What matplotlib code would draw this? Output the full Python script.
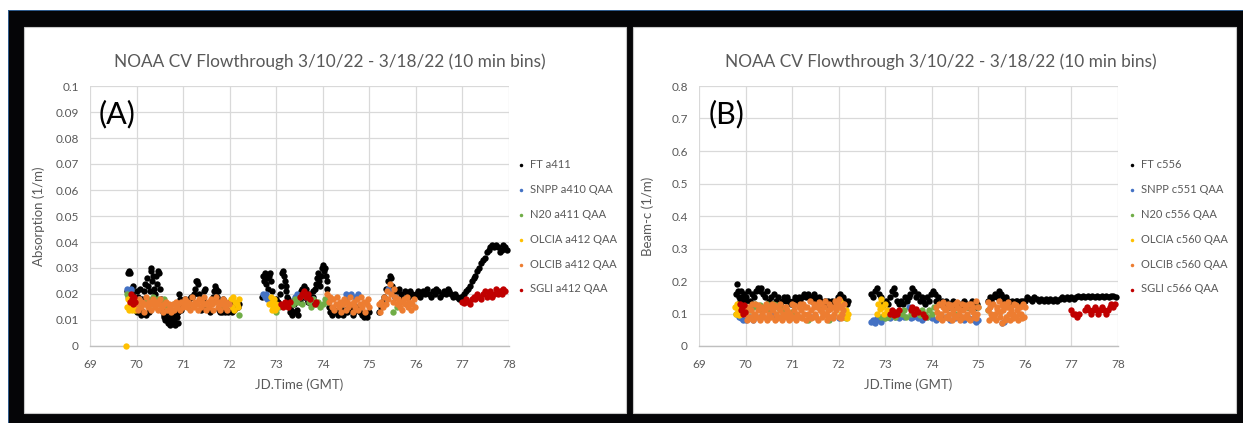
import matplotlib.pyplot as plt
from matplotlib.patches import Rectangle
from matplotlib.ticker import FuncFormatter

plt.rcParams['font.family'] = ['Lato', 'DejaVu Sans']

# ---------------- data: panel A (absorption, 1/m) ----------------
ft_a411 = [
    (69.80, .021), (69.82, .028), (69.84, .029), (69.86, .028), (69.88, .022), (69.90, .020),
    (69.92, .023), (69.94, .019), (69.96, .017), (69.98, .014), (70.00, .013), (70.02, .021),
    (70.04, .019), (70.06, .013), (70.08, .022), (70.10, .012), (70.12, .018), (70.14, .013),
    (70.16, .021), (70.18, .024), (70.20, .012), (70.22, .026), (70.24, .023), (70.26, .013),
    (70.28, .021), (70.30, .029), (70.32, .030), (70.34, .025), (70.36, .027), (70.38, .022),
    (70.40, .020), (70.42, .027), (70.44, .024), (70.46, .029), (70.48, .028), (70.50, .022),
    (70.52, .018), (70.54, .014), (70.56, .013), (70.58, .011), (70.60, .012), (70.62, .010),
    (70.64, .011), (70.66, .013), (70.68, .009), (70.70, .010), (70.72, .008), (70.74, .011),
    (70.76, .012), (70.78, .009), (70.80, .010), (70.82, .008), (70.84, .012), (70.86, .011),
    (70.88, .009), (70.90, .013), (70.92, .020), (70.94, .018), (70.96, .014), (70.98, .016),
    (71.00, .017), (71.04, .018), (71.08, .016), (71.12, .018), (71.16, .019), (71.20, .019),
    (71.24, .020), (71.26, .022), (71.28, .025), (71.30, .025), (71.32, .024), (71.34, .020),
    (71.38, .014), (71.42, .018), (71.44, .021), (71.48, .022), (71.52, .015), (71.56, .016),
    (71.58, .013), (71.62, .017), (71.64, .019), (71.66, .021), (71.68, .023), (71.70, .022),
    (71.72, .019), (71.74, .021), (71.78, .014), (71.80, .013), (71.84, .013), (71.86, .018),
    (71.90, .013), (71.94, .014), (71.96, .013), (72.00, .017), (72.04, .016), (72.06, .013),
    (72.10, .014), (72.14, .015), (72.18, .015), (72.20, .016),
    (72.70, .019), (72.72, .027), (72.74, .025), (72.76, .028), (72.78, .024), (72.80, .026),
    (72.82, .022), (72.84, .027), (72.86, .028), (72.88, .025), (72.90, .021), (72.92, .018),
    (72.96, .016), (73.00, .018), (73.04, .017), (73.08, .020), (73.10, .023), (73.12, .028),
    (73.14, .029), (73.16, .027), (73.18, .025), (73.20, .023), (73.22, .021), (73.24, .019),
    (73.26, .018), (73.28, .015), (73.30, .013), (73.32, .014), (73.34, .012), (73.36, .013),
    (73.38, .016), (73.40, .018), (73.42, .013), (73.44, .014), (73.46, .012), (73.48, .019),
    (73.50, .020), (73.52, .017), (73.54, .021), (73.56, .022), (73.58, .019), (73.60, .023),
    (73.62, .021), (73.64, .022), (73.66, .018), (73.68, .017), (73.70, .020), (73.72, .019),
    (73.74, .016), (73.76, .018), (73.78, .021), (73.80, .019), (73.82, .017), (73.84, .022),
    (73.86, .024), (73.88, .026), (73.90, .028), (73.92, .025), (73.94, .023), (73.96, .027),
    (73.98, .030), (74.00, .031), (74.02, .029), (74.04, .030), (74.06, .027), (74.08, .025),
    (74.10, .022), (74.12, .018), (74.14, .015), (74.16, .013), (74.20, .012), (74.24, .014),
    (74.28, .013), (74.32, .012), (74.36, .015), (74.40, .013), (74.44, .012), (74.48, .014),
    (74.52, .013), (74.56, .015), (74.60, .014), (74.64, .012), (74.68, .013), (74.72, .015),
    (74.76, .014), (74.80, .013), (74.84, .012), (74.88, .011), (74.92, .012), (74.96, .011),
    (75.00, .013),
    (75.20, .013), (75.24, .015), (75.28, .017), (75.32, .019), (75.36, .022), (75.40, .025),
    (75.44, .027), (75.46, .026), (75.48, .023), (75.52, .021), (75.56, .019), (75.60, .021),
    (75.64, .022), (75.68, .020), (75.72, .018), (75.76, .021), (75.80, .020), (75.84, .019),
    (75.88, .021), (75.92, .020), (75.96, .019), (76.00, .020), (76.04, .021), (76.08, .019),
    (76.12, .020), (76.16, .021), (76.20, .020), (76.24, .022), (76.28, .020), (76.32, .019),
    (76.36, .021), (76.40, .020), (76.44, .022), (76.48, .021), (76.52, .019), (76.56, .020),
    (76.60, .021), (76.64, .020), (76.68, .022), (76.72, .021), (76.76, .020), (76.80, .019),
    (76.84, .020), (76.88, .019), (76.92, .018), (76.96, .019), (77.00, .019), (77.04, .020),
    (77.08, .021), (77.12, .022), (77.16, .023), (77.20, .025), (77.24, .026), (77.28, .027),
    (77.32, .029), (77.36, .030), (77.40, .032), (77.44, .033), (77.48, .034), (77.52, .036),
    (77.56, .037), (77.60, .038), (77.64, .039), (77.68, .038), (77.72, .039), (77.76, .038),
    (77.80, .036), (77.84, .037), (77.88, .039), (77.92, .038), (77.95, .037),
]
snpp_a410 = [
    (69.80, .022), (69.82, .021), (69.85, .020), (69.88, .022), (70.05, .018), (72.72, .020),
    (72.75, .019), (72.78, .020), (72.80, .018), (73.40, .019), (73.45, .020), (73.60, .020),
    (73.65, .019), (73.80, .018), (74.50, .020), (74.55, .019), (74.60, .020), (74.70, .019),
    (74.75, .020), (75.40, .022), (75.45, .021), (75.55, .019),
]
n20_a411 = [
    (69.80, .020), (69.82, .019), (69.84, .018), (70.20, .017), (70.25, .018), (70.30, .016),
    (70.35, .019), (70.40, .017), (70.45, .018), (70.50, .016), (70.55, .017), (70.60, .018),
    (70.65, .015), (70.80, .016), (71.10, .015), (71.50, .016), (71.80, .015), (72.20, .012),
    (73.00, .013), (73.05, .015), (73.35, .016), (73.40, .018), (73.45, .017), (73.50, .019),
    (73.55, .016), (73.70, .017), (73.75, .015), (73.80, .018), (73.85, .016), (73.90, .017),
    (73.95, .015), (74.00, .016), (74.05, .018), (74.10, .017), (74.40, .016), (75.50, .013),
    (75.60, .015),
]
olcia_a412 = [
    (69.77, .000), (69.80, .015), (69.82, .018), (69.84, .014), (69.86, .016), (69.88, .019),
    (69.90, .014), (69.92, .015), (69.94, .017), (69.96, .014), (69.98, .016), (70.00, .015),
    (72.02, .018), (72.05, .015), (72.08, .019), (72.10, .014), (72.12, .017), (72.15, .016),
    (72.18, .015), (72.20, .018), (72.85, .016), (72.88, .019), (72.90, .014), (72.92, .017),
    (72.94, .015), (72.96, .018), (72.98, .014), (73.00, .016), (73.02, .015),
]
olcib_a412 = [
    (70.00, .016), (70.03, .014), (70.06, .018), (70.09, .015), (70.12, .017), (70.15, .013),
    (70.18, .016), (70.21, .019), (70.24, .015), (70.27, .017), (70.30, .014), (70.33, .016),
    (70.36, .018), (70.39, .015), (70.42, .017), (70.45, .014), (70.48, .016), (70.51, .018),
    (70.54, .015), (70.57, .013), (70.60, .016), (70.63, .017), (70.66, .014), (70.69, .016),
    (70.72, .015), (70.75, .013), (70.78, .016), (70.81, .014), (70.84, .017), (70.87, .015),
    (70.90, .016), (70.93, .014), (70.96, .017), (70.99, .015), (71.02, .016), (71.05, .018),
    (71.08, .015), (71.11, .017), (71.14, .014), (71.17, .016), (71.20, .019), (71.23, .015),
    (71.26, .017), (71.29, .016), (71.32, .014), (71.35, .018), (71.38, .015), (71.41, .017),
    (71.44, .019), (71.47, .016), (71.50, .014), (71.53, .017), (71.56, .015), (71.59, .018),
    (71.62, .016), (71.65, .014), (71.68, .017), (71.71, .019), (71.74, .015), (71.77, .017),
    (71.80, .014), (71.83, .016), (71.86, .018), (71.89, .015), (71.92, .017), (71.95, .014),
    (71.98, .016),
    (74.10, .020), (74.13, .017), (74.16, .019), (74.19, .015), (74.22, .018), (74.25, .014),
    (74.28, .016), (74.31, .019), (74.34, .015), (74.37, .017), (74.40, .013), (74.43, .016),
    (74.46, .018), (74.49, .014), (74.52, .017), (74.55, .015), (74.58, .019), (74.61, .016),
    (74.64, .013), (74.67, .017), (74.70, .015), (74.73, .018), (74.76, .014), (74.79, .016),
    (74.82, .019), (74.85, .015), (74.88, .017), (74.91, .013), (74.94, .016), (74.97, .018),
    (75.00, .015),
    (75.20, .016), (75.23, .013), (75.26, .017), (75.29, .015), (75.32, .019), (75.35, .016),
    (75.38, .021), (75.41, .018), (75.44, .024), (75.47, .020), (75.50, .017), (75.53, .022),
    (75.56, .019), (75.59, .016), (75.62, .018), (75.65, .015), (75.68, .017), (75.71, .014),
    (75.74, .018), (75.77, .016), (75.80, .019), (75.83, .015), (75.86, .017), (75.89, .014),
    (75.92, .016), (75.95, .018), (75.98, .015),
]
sgli_a412 = [
    (69.86, .017), (69.88, .020), (69.90, .018), (69.92, .016), (69.94, .019), (69.96, .017),
    (73.10, .016), (73.14, .015), (73.18, .017), (73.22, .016), (73.26, .015), (73.30, .017),
    (73.52, .019), (73.56, .020), (73.60, .021), (73.64, .019), (73.68, .020), (73.72, .018),
    (73.84, .016), (73.86, .017),
    (77.00, .017), (77.04, .0165), (77.08, .018), (77.12, .017), (77.16, .016), (77.20, .018),
    (77.24, .019), (77.28, .018), (77.32, .020), (77.36, .019), (77.40, .018), (77.44, .020),
    (77.48, .021), (77.52, .019), (77.56, .020), (77.60, .021), (77.64, .019), (77.68, .020),
    (77.72, .022), (77.76, .020), (77.80, .021), (77.84, .020), (77.88, .022), (77.92, .021),
]

# ---------------- data: panel B (beam-c, 1/m) ----------------
ft_c556 = [
    (69.80, .16), (69.82, .19), (69.84, .17), (69.86, .15), (69.88, .14), (69.90, .17),
    (69.92, .15), (69.94, .13), (69.96, .16), (69.98, .14), (70.02, .15), (70.06, .17),
    (70.10, .14), (70.14, .16), (70.18, .15), (70.22, .17), (70.26, .18), (70.30, .17),
    (70.34, .18), (70.38, .16), (70.42, .15), (70.46, .17), (70.50, .14), (70.54, .15),
    (70.58, .13), (70.62, .16), (70.66, .14), (70.70, .15), (70.74, .13), (70.78, .14),
    (70.82, .15), (70.86, .14), (70.90, .15), (70.94, .14), (70.98, .13), (71.02, .14),
    (71.06, .15), (71.10, .14), (71.14, .15), (71.18, .14), (71.22, .15), (71.26, .16),
    (71.30, .15), (71.34, .16), (71.38, .15), (71.42, .14), (71.46, .16), (71.50, .15),
    (71.54, .14), (71.58, .15), (71.62, .14), (71.66, .13), (71.70, .14), (71.74, .13),
    (71.78, .14), (71.82, .13), (71.86, .14), (71.90, .13), (71.94, .14), (71.98, .15),
    (72.02, .16), (72.06, .14), (72.10, .15), (72.14, .14), (72.18, .13), (72.20, .14),
    (72.70, .16), (72.74, .15), (72.78, .17), (72.82, .18), (72.86, .16), (72.90, .15),
    (72.94, .14), (72.98, .13), (73.02, .14), (73.06, .13), (73.10, .15), (73.14, .17),
    (73.18, .18), (73.22, .16), (73.26, .14), (73.30, .13), (73.34, .14), (73.38, .13),
    (73.42, .15), (73.46, .14), (73.50, .15), (73.54, .16), (73.58, .18), (73.62, .17),
    (73.66, .15), (73.70, .16), (73.74, .14), (73.78, .15), (73.82, .14), (73.86, .13),
    (73.90, .15), (73.94, .14), (73.98, .16), (74.02, .17), (74.06, .16), (74.10, .14),
    (74.14, .15), (74.18, .13), (74.22, .14), (74.26, .13), (74.30, .14), (74.34, .13),
    (74.38, .12), (74.42, .13), (74.46, .14), (74.50, .13), (74.54, .12), (74.58, .13),
    (74.62, .12), (74.66, .13), (74.70, .14), (74.74, .13), (74.78, .12), (74.82, .13),
    (74.86, .14), (74.90, .13), (74.94, .12), (74.98, .13),
    (75.20, .14), (75.24, .15), (75.28, .14), (75.32, .15), (75.36, .16), (75.40, .15),
    (75.44, .17), (75.48, .16), (75.52, .15), (75.56, .14), (75.60, .15), (75.64, .14),
    (75.68, .13), (75.72, .14), (75.76, .13), (75.80, .14), (75.84, .14), (75.88, .13),
    (75.92, .14), (75.96, .14), (76.00, .14), (76.05, .15), (76.10, .145), (76.15, .14),
    (76.20, .15), (76.25, .145), (76.30, .14), (76.35, .145), (76.40, .14), (76.45, .145),
    (76.50, .14), (76.55, .145), (76.60, .14), (76.65, .145), (76.70, .14), (76.75, .145),
    (76.80, .15), (76.85, .145), (76.90, .15), (76.95, .145), (77.00, .15), (77.05, .145),
    (77.10, .15), (77.15, .155), (77.20, .15), (77.25, .155), (77.30, .15), (77.35, .155),
    (77.40, .15), (77.45, .155), (77.50, .15), (77.55, .155), (77.60, .15), (77.65, .155),
    (77.70, .15), (77.75, .155), (77.80, .15), (77.85, .155), (77.90, .155), (77.95, .15),
]
snpp_c551 = [
    (69.85, .09), (69.90, .085), (69.95, .08), (70.00, .08), (70.05, .085), (70.10, .09),
    (70.15, .08), (70.30, .09), (70.60, .095), (71.00, .10), (71.40, .09), (72.00, .085),
    (72.10, .09), (72.70, .075), (72.74, .08), (72.78, .07), (72.82, .085), (72.86, .08),
    (72.90, .075), (72.94, .09), (72.98, .085), (73.05, .09), (73.10, .085), (73.20, .09),
    (73.30, .085), (73.40, .09), (73.50, .12), (73.55, .085), (73.60, .09), (73.70, .085),
    (73.80, .08), (73.90, .09), (74.00, .085), (74.10, .08), (74.20, .085), (74.30, .09),
    (74.40, .08), (74.50, .085), (74.60, .09), (74.70, .08), (74.80, .085), (74.90, .08),
    (74.95, .075), (75.00, .08), (75.50, .07), (75.55, .075),
]
n20_c556 = [
    (69.80, .10), (70.10, .11), (70.15, .12), (70.20, .13), (70.25, .12), (70.30, .125),
    (70.35, .11), (70.40, .12), (70.45, .13), (70.50, .115), (70.55, .12), (70.60, .13),
    (70.65, .125), (70.70, .12), (70.75, .11), (70.80, .115), (71.00, .105), (71.35, .08),
    (71.60, .12), (71.80, .08), (72.15, .085), (72.90, .09), (73.00, .085), (73.05, .09),
    (73.15, .10), (73.20, .09), (73.35, .10), (73.40, .11), (73.45, .09), (73.55, .10),
    (73.75, .095), (73.80, .11), (73.85, .10), (73.90, .09), (73.95, .11), (74.00, .10),
    (74.05, .12), (74.50, .10), (74.75, .12), (75.00, .12), (75.20, .11),
]
olcia_c560 = [
    (69.78, .12), (69.80, .10), (69.82, .13), (69.84, .11), (69.86, .095), (69.88, .12),
    (69.90, .105), (72.00, .12), (72.03, .14), (72.06, .10), (72.09, .13), (72.12, .09),
    (72.15, .11), (72.18, .085), (72.20, .10), (72.82, .10), (72.85, .13), (72.88, .115),
    (72.91, .145), (72.94, .12), (72.97, .10), (73.00, .13), (73.03, .11),
]
olcib_c560 = [
    (70.00, .10), (70.03, .08), (70.06, .12), (70.09, .09), (70.12, .11), (70.15, .08),
    (70.18, .10), (70.21, .13), (70.24, .09), (70.27, .11), (70.30, .08), (70.33, .12),
    (70.36, .10), (70.39, .09), (70.42, .11), (70.45, .08), (70.48, .12), (70.51, .10),
    (70.54, .09), (70.57, .13), (70.60, .11), (70.63, .08), (70.66, .10), (70.69, .12),
    (70.72, .09), (70.75, .11), (70.78, .08), (70.81, .10), (70.84, .12), (70.87, .09),
    (70.90, .11), (70.93, .08), (70.96, .10), (70.99, .13), (71.02, .09), (71.05, .11),
    (71.08, .08), (71.11, .10), (71.14, .12), (71.17, .09), (71.20, .11), (71.23, .13),
    (71.26, .10), (71.29, .08), (71.32, .12), (71.35, .10), (71.38, .14), (71.41, .11),
    (71.44, .09), (71.47, .13), (71.50, .10), (71.53, .12), (71.56, .08), (71.59, .11),
    (71.62, .13), (71.65, .09), (71.68, .12), (71.71, .10), (71.74, .08), (71.77, .11),
    (71.80, .13), (71.83, .09), (71.86, .12), (71.89, .10), (71.92, .14), (71.95, .11),
    (71.98, .13), (72.01, .09), (72.04, .12), (72.07, .10), (72.10, .11),
    (70.02, .12), (70.08, .085), (70.14, .13), (70.20, .095), (70.26, .125), (70.32, .085),
    (70.38, .115), (70.44, .13), (70.50, .09), (70.56, .115), (70.62, .125), (70.68, .085),
    (70.74, .13), (70.80, .095), (70.86, .12), (70.92, .105), (70.98, .085), (71.04, .125),
    (71.10, .09), (71.16, .13), (71.22, .085), (71.28, .12), (71.34, .095), (71.40, .085),
    (71.46, .12), (71.52, .09), (71.58, .135), (71.64, .105), (71.70, .14), (71.76, .095),
    (71.82, .115), (71.88, .085), (71.94, .125), (72.00, .145), (72.06, .085), (72.12, .13),
    (74.10, .12), (74.13, .09), (74.16, .13), (74.19, .10), (74.22, .08), (74.25, .12),
    (74.28, .11), (74.31, .09), (74.34, .13), (74.37, .10), (74.40, .12), (74.43, .08),
    (74.46, .11), (74.49, .13), (74.52, .09), (74.55, .12), (74.58, .10), (74.61, .08),
    (74.64, .13), (74.67, .11), (74.70, .09), (74.73, .12), (74.76, .10), (74.79, .13),
    (74.82, .08), (74.85, .11), (74.88, .12), (74.91, .09), (74.94, .14), (74.97, .10),
    (75.00, .12), (74.115, .105), (74.175, .085), (74.235, .135), (74.295, .115),
    (74.355, .085), (74.415, .125), (74.475, .095), (74.535, .135), (74.595, .115),
    (74.655, .09), (74.715, .125), (74.775, .085), (74.835, .13), (74.895, .105), (74.955, .085),
    (75.20, .11), (75.23, .08), (75.26, .12), (75.29, .09), (75.32, .13), (75.35, .10),
    (75.38, .08), (75.41, .12), (75.44, .14), (75.47, .09), (75.50, .07), (75.53, .11),
    (75.56, .13), (75.59, .09), (75.62, .12), (75.65, .10), (75.68, .08), (75.71, .12),
    (75.74, .10), (75.77, .13), (75.80, .09), (75.83, .11), (75.86, .08), (75.89, .12),
    (75.92, .10), (75.95, .13), (75.98, .09), (75.215, .135), (75.275, .10), (75.335, .085),
    (75.395, .115), (75.455, .105), (75.515, .125), (75.575, .08), (75.635, .135),
    (75.695, .11), (75.755, .085), (75.815, .125), (75.875, .10), (75.935, .085), (75.995, .12),
]
sgli_c566 = [
    (69.88, .13), (69.90, .11), (69.92, .12), (69.94, .10), (69.96, .125), (69.98, .105),
    (73.10, .10), (73.14, .11), (73.18, .095), (73.22, .105), (73.26, .10), (73.30, .11),
    (73.55, .11), (73.58, .12), (73.62, .10), (73.66, .115), (73.70, .105), (73.82, .10),
    (73.85, .09),
    (77.00, .11), (77.04, .10), (77.08, .10), (77.12, .09), (77.16, .10), (77.30, .11),
    (77.34, .12), (77.38, .11), (77.42, .10), (77.46, .11), (77.50, .12), (77.54, .11),
    (77.58, .10), (77.62, .11), (77.66, .12), (77.70, .11), (77.74, .10), (77.78, .11),
    (77.82, .12), (77.86, .13), (77.90, .12), (77.94, .13),
]

title = 'NOAA CV Flowthrough 3/10/22 - 3/18/22 (10 min bins)'
colors = ['#000000', '#4472C4', '#70AD47', '#FFC000', '#ED7D31', '#C00000']
labels_a = ['FT a411', 'SNPP a410 QAA', 'N20 a411 QAA', 'OLCIA a412 QAA', 'OLCIB a412 QAA', 'SGLI a412 QAA']
labels_b = ['FT c556', 'SNPP c551 QAA', 'N20 c556 QAA', 'OLCIA c560 QAA', 'OLCIB c560 QAA', 'SGLI c566 QAA']
series_a = [ft_a411, snpp_a410, n20_a411, olcia_a412, olcib_a412, sgli_a412]
series_b = [ft_c556, snpp_c551, n20_c556, olcia_c560, olcib_c560, sgli_c566]

W, H = 1243, 423
TXT = '#595959'
fig = plt.figure(figsize=(W / 100, H / 100), dpi=100)


def rect_px(x0, y0, x1, y1, **kw):
    # pixel box, y measured from the top; kept behind the axes
    fig.patches.append(Rectangle((x0 / W, 1 - y1 / H), (x1 - x0) / W, (y1 - y0) / H,
                                 transform=fig.transFigure, figure=fig, zorder=-10, **kw))


rect_px(8, 10, W, H, facecolor='#2f5b8c', edgecolor='none')
rect_px(9, 11, W, H, facecolor='#050507', edgecolor='none')
rect_px(24, 27, 626, 413, facecolor='white', edgecolor='#c8c8c8', lw=0.8)
rect_px(633, 27, 1236, 413, facecolor='white', edgecolor='#c8c8c8', lw=0.8)


def panel(left, ymax, ystep, ylabel, series, labels, tag, title_x, tag_x, leg_x):
    ax = fig.add_axes([left / W, 1 - 346 / H, 419 / W, 260 / H])
    ax.set_facecolor('none')
    for data, c, lab in zip(series, colors, labels):
        xs, ys = zip(*data)
        ax.scatter(xs, ys, s=21, color=c, linewidths=0, label=lab, zorder=3, clip_on=False)
    ax.set_xlim(69, 78)
    ax.set_ylim(0, ymax)
    ax.set_xticks(range(69, 79))
    ax.set_yticks([i * ystep for i in range(int(round(ymax / ystep)) + 1)])
    ax.yaxis.set_major_formatter(FuncFormatter(lambda v, p: f'{v:.3g}' if v else '0'))
    ax.grid(True, color='#d9d9d9', lw=0.9)
    ax.set_axisbelow(True)
    for s in ('top', 'right', 'left'):
        ax.spines[s].set_visible(False)
    ax.spines['bottom'].set_color('#bfbfbf')
    ax.spines['bottom'].set_linewidth(1.0)
    ax.tick_params(length=0, labelsize=8.5, labelcolor=TXT)
    ax.tick_params(axis='x', pad=9)
    ax.tick_params(axis='y', pad=8)
    ax.set_xlabel('JD.Time (GMT)', fontsize=9.5, color=TXT)
    ax.xaxis.set_label_coords(0.5, -0.125)
    ax.set_ylabel(ylabel, fontsize=9.5, color=TXT)
    ax.yaxis.set_label_coords(-0.107, 0.5)
    fig.text(title_x / W, 1 - 62 / H, title, fontsize=12.4, color=TXT, ha='center', va='center')
    fig.text(tag_x / W, 1 - 114 / H, tag, fontsize=22, color='black', ha='left', va='center')
    leg = ax.legend(loc='upper left', bbox_to_anchor=(leg_x / W, 1 - 159 / H),
                    bbox_transform=fig.transFigure, frameon=False, fontsize=8,
                    markerscale=0.55, handlelength=0.4, handletextpad=0.55,
                    labelspacing=1.25, borderpad=0, borderaxespad=0)
    for t in leg.get_texts():
        t.set_color(TXT)
    return ax


panel(90, 0.1, 0.01, 'Absorption (1/m)', series_a, labels_a, '(A)', 330, 99, 519)
panel(699, 0.8, 0.1, 'Beam-c (1/m)', series_b, labels_b, '(B)', 941, 709, 1130)

fig.savefig('out.png', dpi=100)
